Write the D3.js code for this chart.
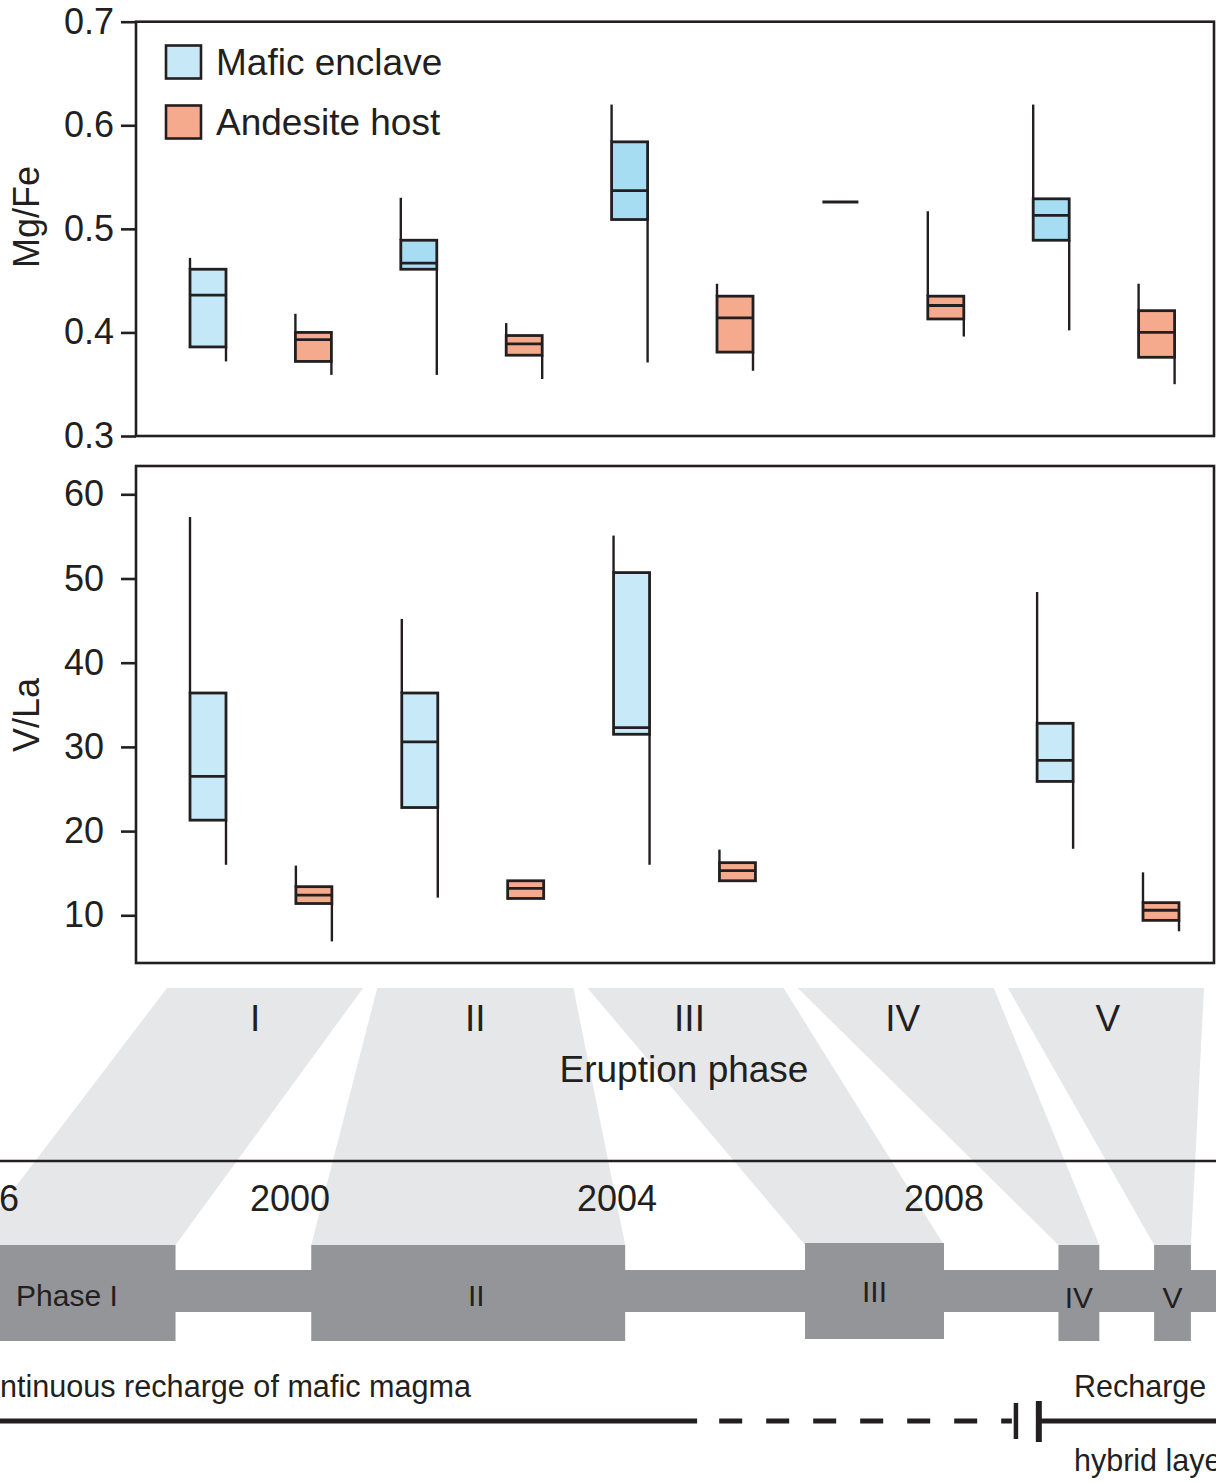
<!DOCTYPE html>
<html><head><meta charset="utf-8">
<script src="https://cdn.jsdelivr.net/npm/d3@7"></script>
<style>body{margin:0;background:#fff}svg{display:block;font-family:"Liberation Sans",Arial,Helvetica,sans-serif}</style>
</head><body><svg id="c" width="1216" height="1482"></svg>
<script>
// ---------- data ----------
const phases = ["I", "II", "III", "IV", "V"];
const seriesNames = ["Mafic enclave", "Andesite host"];
// [min, q1, median, q3, max] per eruption phase
const mgfeMafic = [
  [0.372, 0.386, 0.436, 0.461, 0.472],
  [0.359, 0.461, 0.467, 0.489, 0.530],
  [0.371, 0.509, 0.537, 0.584, 0.620],
  [0.526, 0.526, 0.526, 0.526, 0.526],
  [0.402, 0.489, 0.513, 0.529, 0.620]
];
const mgfeAndesite = [
  [0.359, 0.372, 0.393, 0.400, 0.418],
  [0.355, 0.378, 0.389, 0.397, 0.409],
  [0.363, 0.381, 0.414, 0.435, 0.447],
  [0.396, 0.413, 0.426, 0.435, 0.517],
  [0.350, 0.376, 0.400, 0.421, 0.447]
];
const vlaMafic = [
  [16.0, 21.3, 26.5, 36.4, 57.3],
  [12.1, 22.8, 30.6, 36.4, 45.2],
  [16.0, 31.5, 32.3, 50.7, 55.1],
  null,
  [17.9, 25.9, 28.4, 32.8, 48.4]
];
const vlaAndesite = [
  [6.9, 11.4, 12.4, 13.4, 15.9],
  [12.0, 12.0, 13.2, 14.1, 14.1],
  [14.1, 14.1, 15.3, 16.25, 17.8],
  null,
  [8.1, 9.4, 10.6, 11.5, 15.1]
];
const mgfeTicks = [0.3, 0.4, 0.5, 0.6, 0.7];
const vlaTicks = [10, 20, 30, 40, 50, 60];
const yearTicks = [1996, 2000, 2004, 2008];
// eruption phase time spans (decimal years)
const phaseSpans = [[1996.1, 1998.6], [2000.26, 2004.1], [2006.3, 2008.0], [2009.4, 2009.9], [2010.57, 2011.02]];
const blockLabels = ["Phase I", "II", "III", "IV", "V"];
const pauseSpan = [1995, 2012];
const rechargeContinuous = [1995, 2004.98];
const rechargeUncertain = [2005.25, 2008.83];
const rechargeBreaks = [2008.88, 2009.16];
const rechargeLater = [2009.16, 2012];

// ---------- setup ----------
const ink = "#231f20";
const svg = d3.select("#c");
const boxW = 36;

function buildRows(mafic, andesite) {
  const rows = [];
  phases.forEach((p, i) => {
    [mafic[i], andesite[i]].forEach((v, t) => {
      rows.push({ key: p + "-" + t, phase: p, type: t, v });
    });
  });
  return rows;
}

function drawPanel(cfg) {
  const g = svg.append("g");
  const y = d3.scaleLinear().domain(cfg.domain).range(cfg.range);
  const rows = buildRows(cfg.mafic, cfg.andesite);
  const x = d3.scalePoint().domain(rows.map(r => r.key)).range(cfg.xRange);

  g.append("rect").attr("x", cfg.frame[0]).attr("y", cfg.frame[1])
    .attr("width", cfg.frame[2]).attr("height", cfg.frame[3])
    .attr("fill", "none").attr("stroke", ink).attr("stroke-width", 2.6);

  const ax = g.append("g").attr("transform", `translate(${cfg.frame[0]},0)`)
    .call(d3.axisLeft(y).tickValues(cfg.ticks).tickSize(15).tickPadding(cfg.pad).tickFormat(cfg.fmt));
  ax.select(".domain").remove();
  ax.selectAll(".tick line").attr("stroke", ink).attr("stroke-width", 2.6);
  ax.selectAll(".tick text").attr("fill", ink).attr("font-size", 36)
    .attr("font-family", '"Liberation Sans",Arial,sans-serif');

  g.append("text").attr("transform", `translate(${cfg.titleX},${cfg.titleY}) rotate(-90)`)
    .attr("text-anchor", "middle").attr("font-size", 36).attr("fill", ink).text(cfg.title);

  const boxes = g.selectAll("g.box").data(rows.filter(r => r.v)).join("g").attr("class", "box");
  boxes.each(function (d) {
    const b = d3.select(this);
    const [mn, q1, md, q3, mx] = d.v;
    const x0 = x(d.key), x1 = x0 + boxW;
    const fill = d.type === 1 ? "#f6aa8d" : cfg.maficFill(d);
    if (mx > q3) b.append("line").attr("x1", x0).attr("x2", x0).attr("y1", y(q3)).attr("y2", y(mx))
      .attr("stroke", ink).attr("stroke-width", 2.4);
    if (mn < q1) b.append("line").attr("x1", x1).attr("x2", x1).attr("y1", y(q1)).attr("y2", y(mn))
      .attr("stroke", ink).attr("stroke-width", 2.4);
    if (q3 > q1) b.append("rect").attr("x", x0).attr("y", y(q3)).attr("width", boxW)
      .attr("height", y(q1) - y(q3)).attr("fill", fill).attr("stroke", ink).attr("stroke-width", 2.8);
    b.append("line").attr("x1", x0).attr("x2", x1).attr("y1", y(md)).attr("y2", y(md))
      .attr("stroke", ink).attr("stroke-width", q3 > q1 ? 2.8 : 3);
  });
  return g;
}

// ---------- top panel: Mg/Fe ----------
const topPanel = drawPanel({
  domain: [0.3, 0.7], range: [436, 21.7], ticks: mgfeTicks, fmt: d3.format(".1f"), pad: 7,
  mafic: mgfeMafic, andesite: mgfeAndesite, xRange: [190, 1138.6],
  frame: [136, 21.7, 1078, 414.3], title: "Mg/Fe", titleX: 39, titleY: 217,
  maficFill: d => d.phase === "I" ? "#c4e8f7" : "#a6ddf2"
});

// legend
const legColors = ["#c6e8f7", "#f6aa8d"];
const leg = topPanel.append("g");
seriesNames.forEach((n, i) => {
  leg.append("rect").attr("x", 166).attr("y", 45.5 + i * 60).attr("width", 35).attr("height", 33)
    .attr("fill", legColors[i]).attr("stroke", ink).attr("stroke-width", 2.6);
  leg.append("text").attr("x", 216).attr("y", 75 + i * 60).attr("font-size", 37).attr("fill", ink).text(n);
});

// ---------- bottom panel: V/La ----------
drawPanel({
  domain: [10, 60], range: [915.3, 494.3], ticks: vlaTicks, fmt: d3.format("d"), pad: 17,
  mafic: vlaMafic, andesite: vlaAndesite, xRange: [190, 1143],
  frame: [136, 466, 1078, 497], title: "V/La", titleX: 39, titleY: 715,
  maficFill: d => "#c8eaf8"
});

// ---------- eruption phase / timeline ----------
const lower = svg.append("g");
const band = d3.scaleBand().domain(phases).range([167, 1204]).paddingInner(0.067);
const t = d3.scaleLinear().domain([2000, 2008]).range([290, 944]);
const phaseLabelNudge = [-10, 0, 4, 7, 2];

lower.selectAll("path.trap").data(phases).join("path").attr("class", "trap")
  .attr("fill", "#e6e7e8")
  .attr("d", (p, i) => {
    const a = band(p), b = a + band.bandwidth();
    const [s, e] = phaseSpans[i];
    return `M${a},988L${b},988L${t(e)},1245L${t(s)},1245Z`;
  });

lower.selectAll("text.ph").data(phases).join("text").attr("class", "ph")
  .attr("x", (p, i) => band(p) + band.bandwidth() / 2 + phaseLabelNudge[i]).attr("y", 1031)
  .attr("text-anchor", "middle").attr("font-size", 37).attr("fill", ink).text(p => p);
lower.append("text").attr("x", 684).attr("y", 1082).attr("text-anchor", "middle")
  .attr("font-size", 37).attr("fill", ink).text("Eruption phase");

lower.append("line").attr("x1", 0).attr("x2", 1216).attr("y1", 1161).attr("y2", 1161)
  .attr("stroke", ink).attr("stroke-width", 2.6);

lower.selectAll("text.yr").data(yearTicks).join("text").attr("class", "yr")
  .attr("x", d => t(d) + (d === 1996 ? 16 : 0)).attr("y", 1211).attr("text-anchor", "middle")
  .attr("font-size", 36).attr("fill", ink).text(d => d);

// quiet band + phase blocks
lower.append("rect").attr("x", t(pauseSpan[0])).attr("y", 1270)
  .attr("width", t(pauseSpan[1]) - t(pauseSpan[0])).attr("height", 42).attr("fill", "#939598");
lower.selectAll("rect.blk").data(phaseSpans).join("rect").attr("class", "blk")
  .attr("x", d => t(d[0])).attr("width", d => t(d[1]) - t(d[0]))
  .attr("y", (d, i) => i === 2 ? 1243 : 1245).attr("height", 96).attr("fill", "#939598");
lower.selectAll("text.bl").data(phaseSpans).join("text").attr("class", "bl")
  .attr("x", (d, i) => i === 0 ? 16 : (t(d[0]) + t(d[1])) / 2 + (i === 1 ? 8 : 0))
  .attr("y", (d, i) => i === 2 ? 1302 : (i >= 3 ? 1308 : 1306))
  .attr("text-anchor", (d, i) => i === 0 ? "start" : "middle")
  .attr("font-size", 30).attr("fill", ink).text((d, i) => blockLabels[i]);

// recharge line
lower.append("text").attr("x", 471).attr("y", 1397).attr("text-anchor", "end")
  .attr("font-size", 30.6).attr("fill", ink).text("Continuous recharge of mafic magma");
lower.append("text").attr("x", 1074).attr("y", 1397).attr("font-size", 30.5).attr("fill", ink).text("Recharge");
lower.append("text").attr("x", 1074).attr("y", 1471).attr("font-size", 30.5).attr("fill", ink).text("hybrid layer");

lower.append("line").attr("x1", t(rechargeContinuous[0])).attr("x2", t(rechargeContinuous[1]))
  .attr("y1", 1421).attr("y2", 1421).attr("stroke", ink).attr("stroke-width", 5);
lower.append("line").attr("x1", t(rechargeUncertain[0])).attr("x2", t(rechargeUncertain[1]))
  .attr("y1", 1421).attr("y2", 1421).attr("stroke", ink).attr("stroke-width", 5)
  .attr("stroke-dasharray", "23,24");
lower.append("line").attr("x1", t(rechargeBreaks[0])).attr("x2", t(rechargeBreaks[0]))
  .attr("y1", 1403).attr("y2", 1439).attr("stroke", ink).attr("stroke-width", 4.5);
lower.append("line").attr("x1", t(rechargeBreaks[1])).attr("x2", t(rechargeBreaks[1]))
  .attr("y1", 1401).attr("y2", 1442).attr("stroke", ink).attr("stroke-width", 6);
lower.append("line").attr("x1", t(rechargeLater[0])).attr("x2", t(rechargeLater[1]))
  .attr("y1", 1421).attr("y2", 1421).attr("stroke", ink).attr("stroke-width", 5);
</script></body></html>
